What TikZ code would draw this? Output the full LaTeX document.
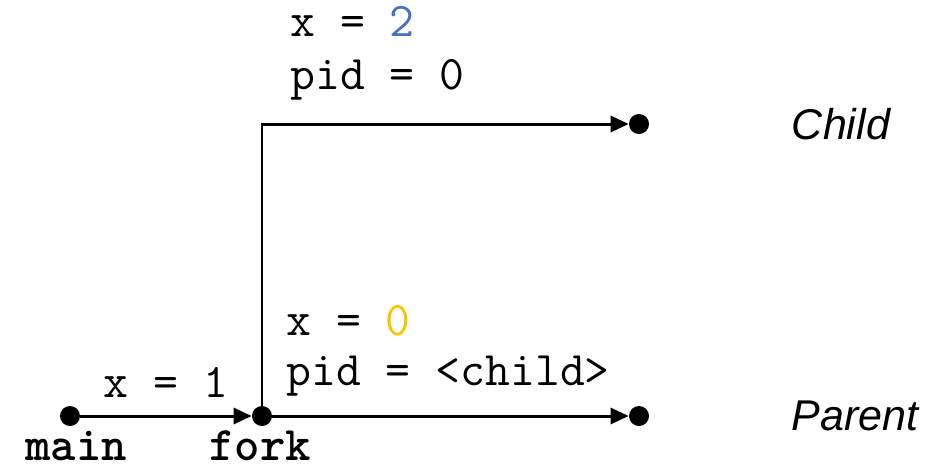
\documentclass[tikz,border=0pt]{standalone}
\usepackage{fontspec}
\setmainfont{Liberation Sans}
\usetikzlibrary{
  positioning,
  arrows.meta
}
\usepackage{xcolor}
\definecolor{childval}{HTML}{4472C4}
\definecolor{parentval}{HTML}{FFC000}

\begin{document}
\begin{tikzpicture}[x=0.02cm, y=-0.02cm,
  dot/.style={circle, fill=black, inner sep=0pt, minimum size=0.4cm},
  flow/.style={line width=1.7pt, -{Triangle[length=0.36cm, width=0.32cm]}},
  code/.style={font=\fontsize{27.5}{30}\selectfont\ttfamily, inner sep=0pt, align=left},
  call/.style={font=\fontsize{27.5}{30}\selectfont\ttfamily\bfseries, inner sep=0pt},
  proc/.style={font=\fontsize{24.5}{30}\selectfont\itshape, inner sep=0pt},
]
  \useasboundingbox (0,0) rectangle (949,468);

  \node[dot] (main) at (70, 416) {};
  \node[dot] (fork) at (262, 416) {};
  \node[dot] (parent) at (639, 416) {};
  \node[dot] (child) at (639, 124) {};

  \draw[flow] (main) -- (fork);
  \draw[flow] (fork) -- (parent);
  \draw[flow] (fork.center) |- (child);

  \node[call, anchor=base] (mainlbl) at (76, 460) {main};
  \node[call, anchor=base] (forklbl) at (260, 460) {fork};

  \node[code, anchor=base] (xone) at (166, 397) {x = 1};

  \node[code, anchor=base west] (childx) at (290, 36) {x = \textcolor{childval}{2}};
  \node[code, anchor=base west] (childpid) at (290, 89) {pid = 0};

  \node[code, anchor=base west] (parentx) at (286, 335) {x = \textcolor{parentval}{0}};
  \node[code, anchor=base west] (parentpid) at (286, 385) {pid = <child>};

  \node[proc] (childlbl) at (841, 124) {Child};
  \node[proc] (parentlbl) at (855, 416) {Parent};
\end{tikzpicture}
\end{document}
